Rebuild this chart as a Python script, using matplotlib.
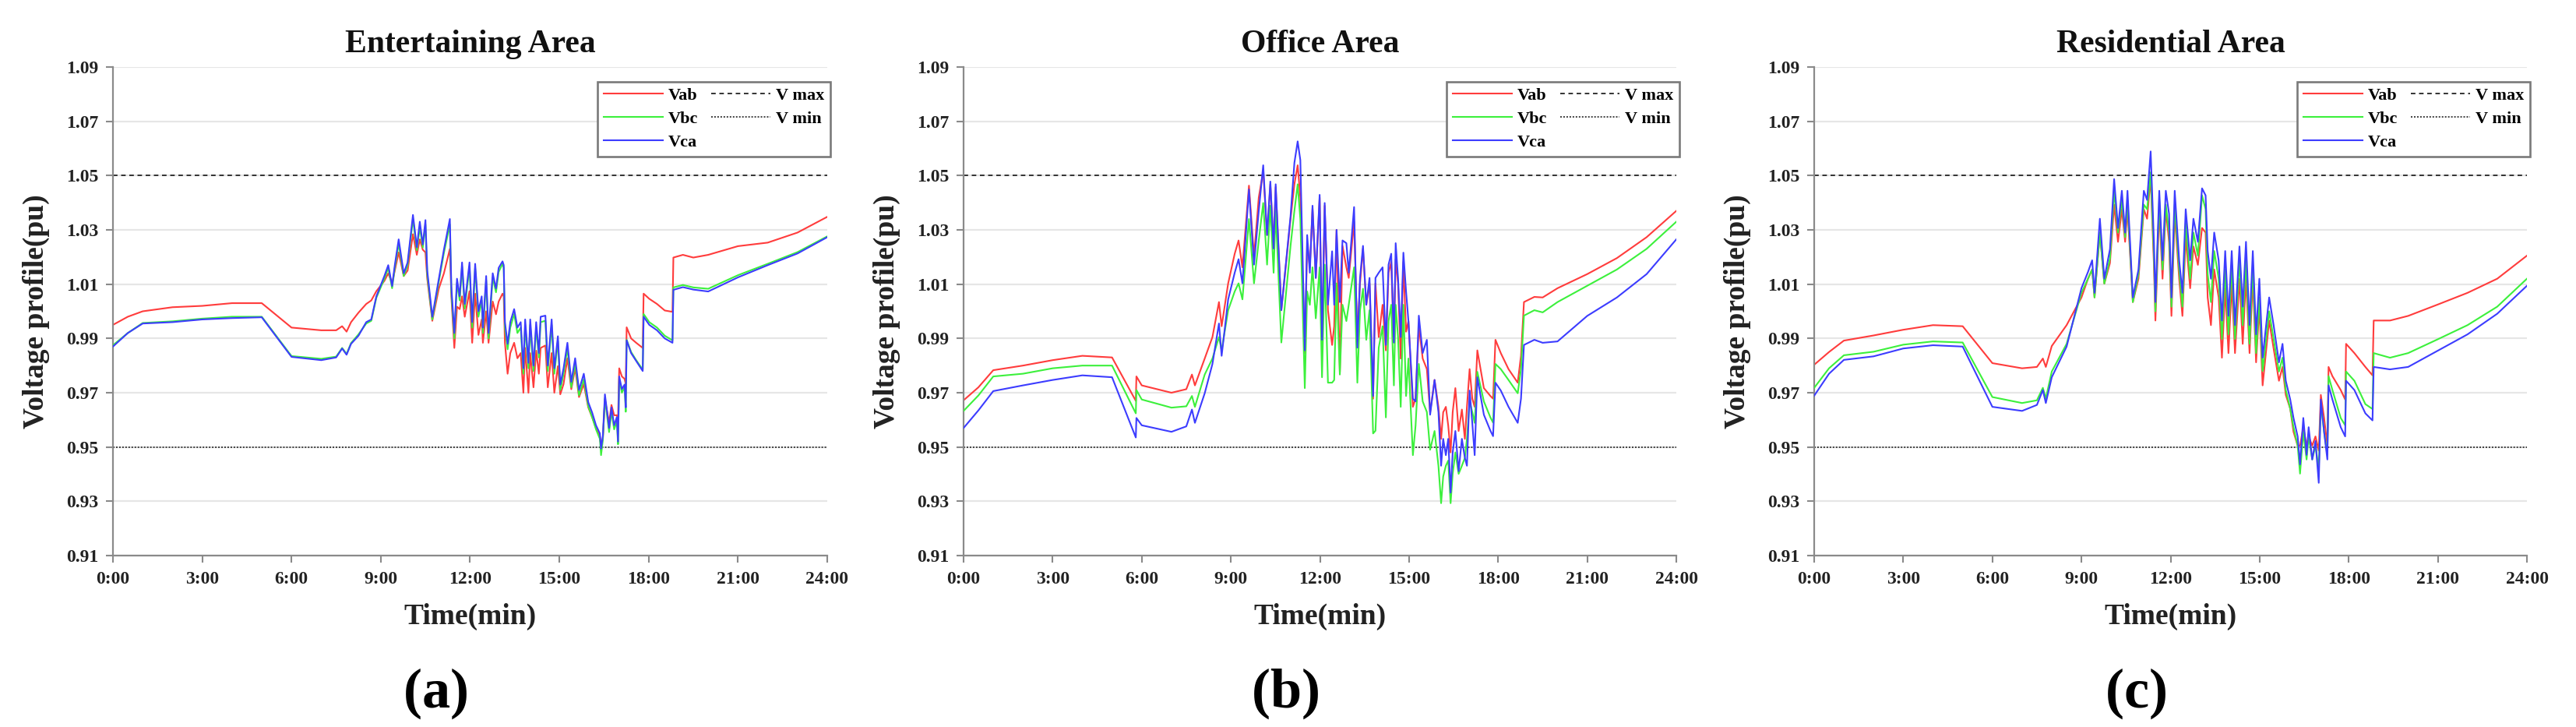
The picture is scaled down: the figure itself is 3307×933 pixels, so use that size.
import matplotlib
matplotlib.use("Agg")
import matplotlib.pyplot as plt
from matplotlib.lines import Line2D

# ---------------------------------------------------------------
# Data (time in hours, voltage in pu)
# ---------------------------------------------------------------
y_ticks = [0.91, 0.93, 0.95, 0.97, 0.99, 1.01, 1.03, 1.05, 1.07, 1.09]
x_ticks = [0, 3, 6, 9, 12, 15, 18, 21, 24]
x_tick_labels = ["0:00", "3:00", "6:00", "9:00", "12:00", "15:00", "18:00", "21:00", "24:00"]
v_max = 1.05
v_min = 0.95

titles = ["Entertaining Area", "Office Area", "Residential Area"]
tags = ["a", "b", "c"]

#### Entertaining area
hours_a = [0, 0.5, 1, 2, 3, 4, 5, 6, 7, 7.5, 7.7, 7.85, 8.0, 8.25,
           8.51, 8.68, 8.85, 9.12, 9.25, 9.38, 9.47, 9.60, 9.77, 9.90,
           10.08, 10.21, 10.31, 10.41, 10.50, 10.56, 10.73, 10.95, 11.12, 11.32,
           11.37, 11.47, 11.56, 11.65, 11.73, 11.82, 11.98, 12.07, 12.17, 12.28,
           12.39, 12.43, 12.54, 12.62, 12.76, 12.87, 12.96, 13.09, 13.13, 13.17,
           13.26, 13.35, 13.48, 13.59, 13.70, 13.79, 13.85, 13.96, 14.02, 14.13,
           14.22, 14.31, 14.37, 14.53, 14.61, 14.74, 14.83, 14.95, 15.03, 15.14,
           15.27, 15.40, 15.53, 15.66, 15.82, 15.97, 16.10, 16.23, 16.36, 16.40,
           16.46, 16.53, 16.67, 16.75, 16.84, 16.93, 16.97, 17.01, 17.10, 17.19,
           17.23, 17.26, 17.41, 17.58, 17.80, 17.83, 18.02, 18.28, 18.54, 18.80,
           18.83, 19.15, 19.50,
           20, 21, 22, 23, 24]
vab_a = [0.995, 0.998, 1.000, 1.0015, 1.002, 1.003, 1.003, 0.994, 0.993, 0.993, 0.9945, 0.9925, 0.996, 0.9995,
         1.0027, 1.004, 1.0074, 1.0112, 1.014, 1.0103, 1.015, 1.0217, 1.013, 1.015,
         1.0284, 1.0208, 1.0265, 1.0227, 1.0217, 1.012, 0.9965, 1.0084, 1.014, 1.023,
         1.0055, 0.9865, 1.0017, 1.0008, 1.0055, 0.998, 1.0074, 0.9884, 1.0065, 0.9913,
         0.997, 0.9884, 1.0, 0.9884, 1.0036, 0.9989, 1.0036, 1.0065, 1.0055, 0.9884,
         0.977, 0.9846, 0.9884, 0.9827, 0.9846, 0.970, 0.9865, 0.970, 0.9846, 0.972,
         0.9855, 0.977, 0.9865, 0.9874, 0.972, 0.9846, 0.970, 0.9798, 0.9694, 0.9732,
         0.9827, 0.9713, 0.979, 0.9684, 0.9732, 0.9646, 0.961, 0.957, 0.954, 0.950,
         0.9532, 0.9675, 0.9589, 0.9655, 0.9617, 0.9617, 0.960, 0.979, 0.976, 0.9751,
         0.9732, 0.9941, 0.990, 0.9884, 0.9865, 1.0065, 1.0046, 1.0027, 1.0003, 0.9998,
         1.0198, 1.0208, 1.0198,
         1.0208, 1.024, 1.0253, 1.029, 1.0348]
vbc_a = [0.9875, 0.992, 0.9957, 0.9963, 0.9973, 0.998, 0.998, 0.9835, 0.9825, 0.9833, 0.9865, 0.9843, 0.9883, 0.9915,
         0.9955, 0.9965, 1.005, 1.012, 1.016, 1.0085, 1.016, 1.025, 1.013, 1.017,
         1.034, 1.0225, 1.031, 1.0235, 1.032, 1.0135, 0.997, 1.011, 1.0215, 1.032,
         1.007, 0.990, 1.0105, 1.004, 1.0165, 1.001, 1.0165, 0.994, 1.016, 0.998,
         1.004, 0.992, 1.0115, 0.990, 1.0125, 1.007, 1.0145, 1.0175, 1.016, 0.994,
         0.986, 0.994, 0.999, 0.992, 0.994, 0.977, 0.995, 0.979, 0.995, 0.978,
         0.994, 0.983, 0.996, 0.9965, 0.978, 0.995, 0.977, 0.989, 0.971, 0.977,
         0.9865, 0.972, 0.981, 0.969, 0.975, 0.965, 0.961, 0.9565, 0.953, 0.947,
         0.9525, 0.968, 0.9555, 0.963, 0.9565, 0.9595, 0.951, 0.975, 0.970, 0.972,
         0.963, 0.9895, 0.985, 0.982, 0.9785, 0.999, 0.996, 0.994, 0.991, 0.9893,
         1.0088, 1.0097, 1.0088,
         1.0083, 1.0133, 1.0175, 1.0218, 1.0276]
vca_a = [0.987, 0.992, 0.9955, 0.996, 0.997, 0.9975, 0.9978, 0.9832, 0.982, 0.983, 0.9863, 0.984, 0.988, 0.991,
         0.996, 0.997, 1.0055, 1.013, 1.017, 1.0093, 1.017, 1.0265, 1.014, 1.018,
         1.0355, 1.0236, 1.033, 1.0246, 1.0336, 1.015, 0.998, 1.012, 1.0227, 1.034,
         1.009, 0.992, 1.012, 1.0055, 1.018, 1.0027, 1.018, 0.996, 1.0175, 1.0,
         1.0055, 0.994, 1.013, 0.992, 1.014, 1.0084, 1.016, 1.0184, 1.017, 0.996,
         0.988, 0.996, 1.0008, 0.994, 0.996, 0.979, 0.997, 0.981, 0.997, 0.980,
         0.996, 0.9846, 0.998, 0.9984, 0.980, 0.997, 0.979, 0.9908, 0.973, 0.979,
         0.9884, 0.974, 0.9827, 0.971, 0.977, 0.9665, 0.9627, 0.958, 0.955, 0.9494,
         0.954, 0.9694, 0.957, 0.9646, 0.958, 0.961, 0.952, 0.976, 0.9713, 0.973,
         0.9646, 0.9893, 0.9846, 0.9817, 0.978, 0.998, 0.995, 0.993, 0.990, 0.9884,
         1.0079, 1.0089, 1.008,
         1.0073, 1.0125, 1.017, 1.0213, 1.0273]

#### Office area
hours_b = [0, 0.5, 1, 2, 3, 4, 5, 5.8, 5.82, 6.0, 7.0, 7.5,
           7.69, 7.79, 8.12, 8.38, 8.60, 8.69, 8.91, 9.13, 9.26, 9.39,
           9.61, 9.78, 9.94, 10.09, 10.22, 10.33, 10.44, 10.51, 10.70, 11.01,
           11.14, 11.25, 11.34, 11.49, 11.57, 11.66, 11.75, 11.86, 11.99, 12.07,
           12.16, 12.27, 12.41, 12.48, 12.56, 12.67, 12.76, 12.89, 12.97, 13.15,
           13.26, 13.35, 13.45, 13.56, 13.67, 13.79, 13.87, 13.98, 14.11, 14.22,
           14.31, 14.40, 14.49, 14.55, 14.63, 14.72, 14.81, 14.90, 14.98, 15.13,
           15.22, 15.33, 15.46, 15.60, 15.71, 15.86, 15.99, 16.08, 16.15, 16.24,
           16.32, 16.40, 16.47, 16.56, 16.67, 16.78, 16.88, 16.95, 17.04, 17.13,
           17.21, 17.30, 17.52, 17.74, 17.83, 17.91, 18.09, 18.35, 18.66, 18.77,
           18.87, 19.22,
           19.5, 20, 21, 22, 23, 24]
vab_b = [0.9672, 0.972, 0.9783, 0.980, 0.982, 0.9836, 0.983, 0.967, 0.976, 0.9727, 0.970, 0.9713,
         0.9767, 0.9727, 0.9826, 0.9905, 1.0034, 0.9945, 1.0103, 1.0212, 1.0261, 1.0162,
         1.0463, 1.0202, 1.0419, 1.0518, 1.0281, 1.0468, 1.0241, 1.0458, 1.0004, 1.034,
         1.0468, 1.0538, 1.0419, 0.9846, 1.0251, 1.0162, 1.0379, 1.0123, 1.0419, 0.9876,
         1.0389, 1.0004, 0.9876, 0.9945, 1.03, 0.9777, 1.0241, 1.0162, 1.0123, 1.033,
         0.9905, 1.0103, 1.0231, 1.0024, 1.0103, 0.9678, 1.0103, 0.9905, 1.0024, 0.9856,
         1.0142, 1.0182, 0.9885, 1.0192, 1.0103, 0.9826, 1.0182, 0.9925, 0.9964, 0.9648,
         0.9678, 0.9945, 0.9826, 0.9787, 0.9628, 0.9747, 0.9648, 0.953, 0.9628, 0.9648,
         0.9579, 0.948, 0.9628, 0.9717, 0.9559, 0.9638, 0.953, 0.9648, 0.9787, 0.9678,
         0.9648, 0.9856, 0.9717, 0.9688, 0.9678, 0.9895, 0.9846, 0.9787, 0.9737, 0.9836,
         1.0034, 1.0053,
         1.0051, 1.0085, 1.0137, 1.0196, 1.0273, 1.037]
vbc_b = [0.9633, 0.969, 0.976, 0.977, 0.979, 0.980, 0.980, 0.9624, 0.971, 0.9675, 0.9645, 0.965,
         0.9688, 0.9648, 0.9767, 0.9826, 0.9905, 0.9856, 1.0004, 1.0073, 1.0103, 1.0044,
         1.034, 1.0103, 1.0261, 1.0399, 1.0172, 1.0389, 1.0142, 1.037, 0.9885, 1.0241,
         1.037, 1.0468, 1.034, 0.9717, 1.0073, 1.0024, 1.0162, 0.9974, 1.0162, 0.9757,
         1.0172, 0.9737, 0.9737, 0.9747, 1.0103, 0.9767, 1.0024, 0.9964, 1.0024, 1.0162,
         0.9737, 1.0004, 1.0083, 0.9895, 1.0004, 0.955, 0.956, 0.9866, 0.9945, 0.9609,
         0.9964, 1.0024, 0.9727, 1.0024, 0.9905, 0.9648, 1.0024, 0.9688, 0.9826, 0.947,
         0.9579, 0.9806, 0.9668, 0.9629, 0.949, 0.9559, 0.9431, 0.9293, 0.9391, 0.9431,
         0.945, 0.9293, 0.9401, 0.948, 0.9401, 0.9431, 0.946, 0.953, 0.9668, 0.9629,
         0.9589, 0.9777, 0.9668, 0.9609, 0.959, 0.9806, 0.9787, 0.9747, 0.9698, 0.9787,
         0.9984, 1.0004,
         0.9996, 1.0034, 1.0094, 1.0154, 1.023, 1.033]
vca_b = [0.957, 0.9635, 0.9706, 0.9727, 0.9747, 0.9764, 0.9757, 0.9535, 0.9607, 0.958, 0.9556, 0.9576,
         0.9638, 0.9589, 0.9698, 0.9806, 0.9955, 0.9836, 1.0044, 1.0142, 1.0192, 1.0103,
         1.0449, 1.0172, 1.037, 1.0538, 1.0281, 1.0478, 1.0231, 1.0468, 1.0004, 1.035,
         1.0547, 1.0626, 1.0557, 0.9856, 1.0281, 1.0142, 1.0389, 1.0123, 1.0429, 0.9895,
         1.0399, 1.0024, 1.0221, 1.0024, 1.03, 1.0034, 1.0261, 1.0251, 1.0142, 1.0384,
         0.9866, 1.0123, 1.0241, 1.0024, 1.0123, 0.9688, 1.0123, 1.0142, 1.0162, 0.9876,
         1.0172, 1.0212, 0.9885, 1.0251, 1.0123, 0.9905, 1.0216, 1.0073, 0.9964, 0.9678,
         0.9668, 0.9984, 0.9846, 0.9895, 0.9619, 0.9747, 0.9629, 0.9431, 0.953, 0.947,
         0.953, 0.9332, 0.948, 0.9559, 0.9411, 0.953, 0.946, 0.9431, 0.9708, 0.9589,
         0.947, 0.9757, 0.9619, 0.956, 0.954, 0.9737, 0.9708, 0.9648, 0.9589, 0.9678,
         0.9876, 0.9895,
         0.9884, 0.9889, 0.9983, 1.0051, 1.0137, 1.0265]

#### Residential area
hours_c = [0, 0.5, 1, 2, 3, 4, 5, 6, 7, 7.5, 7.7, 7.8, 8.0, 8.5,
           9.00, 9.22, 9.36, 9.44, 9.62, 9.77, 9.96, 10.10, 10.23, 10.36,
           10.47, 10.55, 10.73, 10.92, 11.10, 11.21, 11.33, 11.44, 11.49, 11.62,
           11.73, 11.84, 11.95, 12.03, 12.14, 12.29, 12.40, 12.51, 12.66, 12.77,
           12.92, 13.06, 13.18, 13.25, 13.36, 13.47, 13.62, 13.73, 13.84, 13.95,
           14.06, 14.17, 14.32, 14.43, 14.54, 14.66, 14.77, 14.88, 14.99, 15.10,
           15.32, 15.47, 15.65, 15.77, 15.88, 16.03, 16.14, 16.28, 16.36, 16.47,
           16.58, 16.65, 16.77, 16.88, 16.99, 17.06, 17.17, 17.28, 17.32, 17.45,
           17.73, 17.88, 17.91, 18.19, 18.56, 18.80, 18.84, 19.39,
           20, 21, 22, 23, 24]
vab_c = [0.9803, 0.985, 0.9892, 0.9911, 0.9932, 0.9949, 0.9945, 0.9809, 0.979, 0.9795, 0.9826, 0.9795, 0.9872, 0.9949,
         1.0051, 1.012, 1.0154, 1.0051, 1.029, 1.0102, 1.0178, 1.0393, 1.0256, 1.0376,
         1.0256, 1.0376, 1.0034, 1.012, 1.0376, 1.0341, 1.0495, 1.0171, 0.9966, 1.0376,
         1.012, 1.0376, 1.0256, 0.9983, 1.0359, 1.012, 0.9983, 1.0273, 1.0085, 1.0239,
         1.0171, 1.0307, 1.029, 1.0051, 0.9949, 1.0154, 1.0051, 0.9829, 1.0085, 0.9846,
         1.0102, 0.9846, 1.012, 0.988, 1.012, 0.9846, 1.012, 0.9812, 1.0017, 0.9727,
         0.9966, 0.9863, 0.9744, 0.9795, 0.9692, 0.9641, 0.9556, 0.9505, 0.9505, 0.9573,
         0.9505, 0.9539, 0.9505, 0.9539, 0.9487, 0.9692, 0.9607, 0.9505, 0.9795, 0.9761,
         0.971, 0.9675, 0.988, 0.9846, 0.9795, 0.9764, 0.9966, 0.9966,
         0.9983, 1.0025, 1.0068, 1.012, 1.0205]
vbc_c = [0.9718, 0.979, 0.9838, 0.9851, 0.9877, 0.9889, 0.9885, 0.9684, 0.9662, 0.9672, 0.9718, 0.9679, 0.9778, 0.988,
         1.0068, 1.012, 1.0154, 1.0051, 1.029, 1.0102, 1.0195, 1.0444, 1.029, 1.041,
         1.0273, 1.041, 1.0034, 1.0137, 1.0393, 1.0376, 1.0512, 1.0205, 1.0, 1.041,
         1.0154, 1.0393, 1.029, 1.0017, 1.0393, 1.0154, 1.0017, 1.0324, 1.012, 1.029,
         1.0205, 1.0427, 1.0376, 1.0137, 1.0034, 1.0222, 1.012, 0.9898, 1.0154, 0.9915,
         1.0171, 0.9898, 1.0188, 0.9949, 1.0188, 0.988, 1.0171, 0.9846, 1.0051, 0.978,
         1.0, 0.9898, 0.9778, 0.9829, 0.971, 0.9641, 0.9573, 0.9505, 0.9402, 0.9556,
         0.9454, 0.9539, 0.9454, 0.9505, 0.9419, 0.9658, 0.9556, 0.9471, 0.9761, 0.971,
         0.9607, 0.958, 0.9778, 0.9744, 0.9658, 0.964, 0.9846, 0.9829,
         0.9846, 0.9897, 0.9949, 1.0017, 1.012]
vca_c = [0.9689, 0.977, 0.9821, 0.9834, 0.9863, 0.9875, 0.987, 0.9648, 0.9633, 0.9655, 0.971, 0.9662, 0.9757, 0.987,
         1.0085, 1.0145, 1.0188, 1.0068, 1.0341, 1.012, 1.0229, 1.0487, 1.0307, 1.0444,
         1.029, 1.0444, 1.0051, 1.0154, 1.0444, 1.041, 1.0589, 1.0256, 1.0034, 1.0444,
         1.0188, 1.0444, 1.0359, 1.0051, 1.0444, 1.0188, 1.0068, 1.0376, 1.0188, 1.0341,
         1.0256, 1.0453, 1.0427, 1.0222, 1.012, 1.029, 1.0188, 0.9966, 1.0222, 0.9983,
         1.0222, 0.9949, 1.0239, 1.0017, 1.0256, 0.9949, 1.0222, 0.9915, 1.012, 0.9829,
         1.0051, 0.9949, 0.9812, 0.988, 0.9744, 0.9675, 0.9607, 0.9539, 0.9436, 0.9607,
         0.9471, 0.9573, 0.9454, 0.9522, 0.9368, 0.9675, 0.9556, 0.9454, 0.9727, 0.9675,
         0.9573, 0.9539, 0.9744, 0.971, 0.9624, 0.9598, 0.9795, 0.9786,
         0.9795, 0.9855, 0.9915, 0.9991, 1.0094]

series = [(hours_a, vab_a, vbc_a, vca_a),
          (hours_b, vab_b, vbc_b, vca_b),
          (hours_c, vab_c, vbc_c, vca_c)]

###########################################################
# Style / layout (pixel positions of the 3307x933 target)
###########################################################
W, H = 3307, 933
ax_left = [145, 1237, 2329]
ax_width = [917, 915, 915]
ax_top, ax_bottom = 86, 713

RED, GREEN, BLUE = "#ff3c3c", "#3cf03c", "#3c3cff"
GRID = "#e6e6e6"
SPINE = "#8a8a8a"
LIMIT = "#333333"
MAX_STYLE = (0, (3, 2.4))
MIN_STYLE = (0, (1.1, 1.1))

plt.rcParams['font.family'] = ['Liberation Serif', 'DejaVu Serif']
plt.rcParams['font.weight'] = 'bold'
plt.rcParams['mathtext.fontset'] = 'custom'
plt.rcParams['mathtext.rm'] = 'Liberation Serif'
plt.rcParams['mathtext.bf'] = 'Liberation Serif:bold'

fig = plt.figure(figsize=(W / 100, H / 100), dpi=100)

for i in range(3):
    t, vab, vbc, vca = series[i]
    left, width = ax_left[i], ax_width[i]
    ax = fig.add_axes([left / W, 1 - ax_bottom / H, width / W, (ax_bottom - ax_top) / H])

    ax.set_axisbelow(True)
    ax.grid(axis='y', color=GRID, lw=1.6)
    ax.axhline(v_max, color=LIMIT, lw=1.4, ls=MAX_STYLE, zorder=1)
    ax.axhline(v_min, color=LIMIT, lw=1.3, ls=MIN_STYLE, zorder=1)

    ax.plot(t, vab, color=RED, lw=1.5, zorder=2)
    ax.plot(t, vbc, color=GREEN, lw=1.5, zorder=3)
    ax.plot(t, vca, color=BLUE, lw=1.5, zorder=4)

    ax.set_xlim(0, 24)
    ax.set_ylim(0.91, 1.09)
    ax.set_xticks(x_ticks)
    ax.set_xticklabels(x_tick_labels)
    ax.set_yticks(y_ticks)
    ax.set_yticklabels(["%.2f" % v for v in y_ticks])
    ax.tick_params(axis='both', direction='out', length=6.5, width=1.5,
                   color=SPINE, labelsize=17, labelcolor='#222222')
    ax.tick_params(axis='x', pad=8)
    ax.tick_params(axis='y', pad=7)
    for side in ['top', 'right']:
        ax.spines[side].set_visible(False)
    for side in ['left', 'bottom']:
        ax.spines[side].set_color(SPINE)
        ax.spines[side].set_linewidth(1.6)

    handles = [Line2D([], [], color=RED, lw=1.5),
               Line2D([], [], color=GREEN, lw=1.5),
               Line2D([], [], color=BLUE, lw=1.5),
               Line2D([], [], color=LIMIT, lw=1.4, ls=MAX_STYLE),
               Line2D([], [], color=LIMIT, lw=1.3, ls=MIN_STYLE)]
    labels = ["Vab", "Vbc", "Vca", "V max", "V min"]
    leg = ax.legend(handles, labels, ncol=2, loc='upper right',
                    bbox_to_anchor=(1.004, 0.970), fancybox=False, framealpha=1,
                    edgecolor='#7a7a7a', borderpad=0.35, labelspacing=0.42,
                    handlelength=3.4, handletextpad=0.3, columnspacing=0.8,
                    borderaxespad=0, prop={'size': 16, 'weight': 'bold'})
    leg.get_frame().set_linewidth(1.9)

    cx = (left + width / 2) / W
    fig.text(cx, 1 - 67 / H, titles[i], ha='center', va='baseline',
             fontsize=30, fontweight='bold', color='#111111')
    fig.text(cx, 1 - 791 / H, "Time(min)", ha='center', va='center',
             fontsize=27, fontweight='bold', color='#222222')
    fig.text((left - 99) / W, 1 - 400 / H, "Voltage profile(pu)", rotation=90,
             ha='center', va='center', fontsize=27, fontweight='bold', color='#222222')
    fig.text(cx - 45 / W, 1 - 908 / H, r"$(\mathbf{%s})$" % tags[i],
             ha='center', va='baseline', fontsize=52, color='black')

fig.savefig("out.png", dpi=100, facecolor='white')
